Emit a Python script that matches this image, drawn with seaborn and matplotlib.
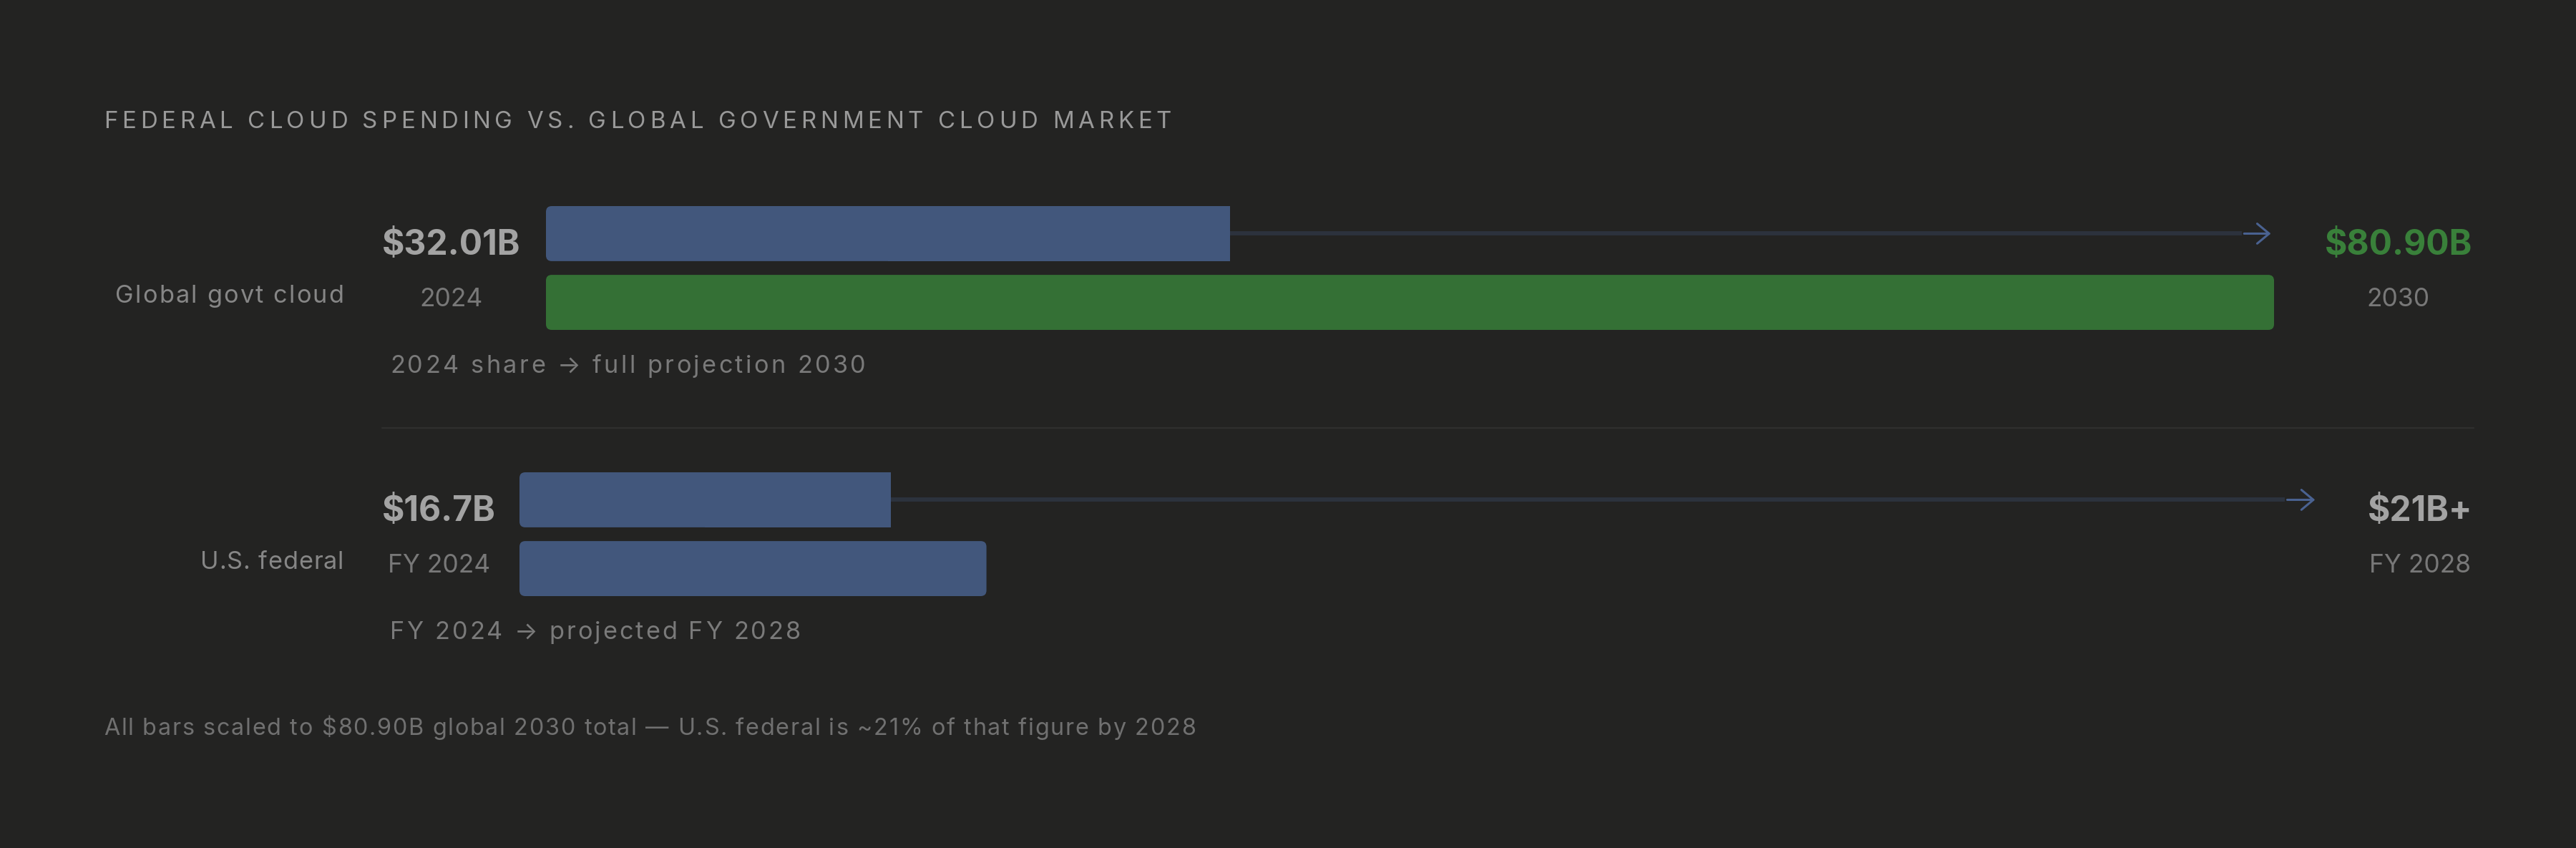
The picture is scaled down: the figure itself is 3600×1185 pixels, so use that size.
import matplotlib
matplotlib.use("Agg")
import matplotlib.pyplot as plt
import seaborn as sns
import pandas as pd
from matplotlib import font_manager
from matplotlib.font_manager import FontProperties
from matplotlib.ft2font import FT2Font
from matplotlib.patches import FancyBboxPatch, Rectangle

# Data
row_names = ["Global govt cloud", "U.S. federal"]
start_values = [32.01, 16.7]
end_values = [80.90, 21.0]
start_labels = ["$32.01B", "$16.7B"]
end_labels = ["$80.90B", "$21B+"]
start_periods = ["2024", "FY 2024"]
end_periods = ["2030", "FY 2028"]
captions = ["2024 share \u2192 full projection 2030", "FY 2024 \u2192 projected FY 2028"]
scale_max = 80.90

title = "FEDERAL CLOUD SPENDING VS. GLOBAL GOVERNMENT CLOUD MARKET"
footnote = ("All bars scaled to $80.90B global 2030 total \u2014 "
            "U.S. federal is ~21% of that figure by 2028")

# Colours
BG = "#232322"
BLUE = "#42577c"
GREEN = "#347035"
GREEN_TEXT = "#39803a"
TRACK = "#2c323d"
ARROW = "#4a6291"
end_bar_colors = [GREEN, BLUE]
end_text_colors = [GREEN_TEXT, "#a3a3a3"]

sns.set_theme(style="dark")
plt.rcParams["font.family"] = ["Inter", "DejaVu Sans"]

W, H = 3600, 1185
fig = plt.figure(figsize=(36, 11.85), dpi=100, facecolor=BG)


def fx(x):
    return x / W


def fy(y):
    return 1 - y / H


def advance_widths(s, size, weight="normal"):
    path = font_manager.findfont(FontProperties(family="Inter", weight=weight))
    ft = FT2Font(path)
    ft.set_size(size, 100)
    out = []
    for ch in s:
        g = ft.load_char(ord(ch))
        out.append(g.linearHoriAdvance / 65536)
    return out


def tracked_text(x, y, s, size, color, target_width, align="left"):
    # letter-spaced text stretched to a given pixel width
    widths = advance_widths(s, size)
    extra = (target_width - sum(widths)) / (len(s) - 1)
    if align == "right":
        x = x - target_width
    for ch, w in zip(s, widths):
        fig.text(fx(x), fy(y), ch, fontsize=size, color=color,
                 ha="left", va="baseline")
        x += w + extra


def text_box(t):
    r = fig.canvas.get_renderer()
    return t.get_window_extent(r)


# Title
tracked_text(145, 179, title, 23.8, "#999999", 1492)

# Rows: (track left, track right, top of first bar)
tracks = [(763, 3178, 288), (726, 3240, 660)]
caption_widths = [665, 574]
row_label_widths = [319, 200]
bar_h, gap = 77, 19

for i, (x0, x1, top) in enumerate(tracks):
    h = 2 * bar_h + gap
    ax = fig.add_axes([fx(x0), fy(top + h), (x1 - x0) / W, h / H])
    ax.set_facecolor("none")

    df = pd.DataFrame({
        "stage": ["start", "end"],
        "value": [start_values[i], end_values[i]],
    })
    sns.barplot(data=df, x="value", y="stage", hue="stage",
                palette=[BLUE, end_bar_colors[i]], orient="h",
                width=0.8, legend=False, ax=ax, saturation=1)
    ax.set_xlim(0, scale_max)
    ax.set_ylim(1.4, -0.4)
    ax.axis("off")

    # rounded bars
    px_x = (x1 - x0) / scale_max
    px_y = h / 1.8
    rad = 8 / px_x
    for j, p in enumerate(list(ax.patches)):
        bx, by, bw, bh = p.get_x(), p.get_y(), p.get_width(), p.get_height()
        col = p.get_facecolor()
        p.remove()
        ax.add_patch(FancyBboxPatch(
            (bx, by), bw, bh,
            boxstyle=f"round,pad=0,rounding_size={rad}",
            mutation_aspect=px_x / px_y,
            facecolor=col, edgecolor="none", zorder=2))
        if j == 0:
            ax.add_patch(Rectangle((bx + bw / 2, by), bw / 2, bh,
                                   facecolor=col, edgecolor="none", zorder=2))

    # track line and arrow head
    ax.plot([start_values[i], 79.4], [0, 0], color=TRACK, lw=4.3,
            solid_capstyle="butt", zorder=1)
    ax.annotate("", xy=(80.75, 0), xytext=(79.5, 0),
                arrowprops=dict(arrowstyle="->,head_length=0.6,head_width=0.5",
                                color=ARROW, lw=2.2, mutation_scale=20,
                                shrinkA=0, shrinkB=0))

    b1 = top + bar_h
    b2 = top + h

    # left column
    t = fig.text(fx(534), fy(b1 - 9), start_labels[i], fontsize=34.5,
                 fontweight="bold", color="#a3a3a3", ha="left", va="baseline")
    bb = text_box(t)
    cx = (bb.x0 + bb.x1) / 2
    fig.text(cx / W, fy(b2 - 33), start_periods[i], fontsize=25.5,
             color="#787878", ha="center", va="baseline")

    # right column
    t = fig.text(fx(3455), fy(b1 - 9), end_labels[i], fontsize=34.5,
                 fontweight="bold", color=end_text_colors[i], ha="right",
                 va="baseline")
    bb = text_box(t)
    cx = (bb.x0 + bb.x1) / 2
    fig.text(cx / W, fy(b2 - 33), end_periods[i], fontsize=25.5,
             color="#787878", ha="center", va="baseline")

    # row label
    tracked_text(480, b2 - 38, row_names[i], 24.7, "#868686",
                 row_label_widths[i], align="right")

    # caption
    tracked_text(545, b2 + 60, captions[i], 24.7, "#7a7a7a", caption_widths[i])

# separator
fig.add_artist(plt.Line2D([fx(534), fx(3457)], [fy(598), fy(598)],
                          color="#2f2f2e", lw=1.6))

# footnote
tracked_text(145, 1027, footnote, 23.3, "#707070", 1526)

fig.savefig("out.png", dpi=100, facecolor=BG)
